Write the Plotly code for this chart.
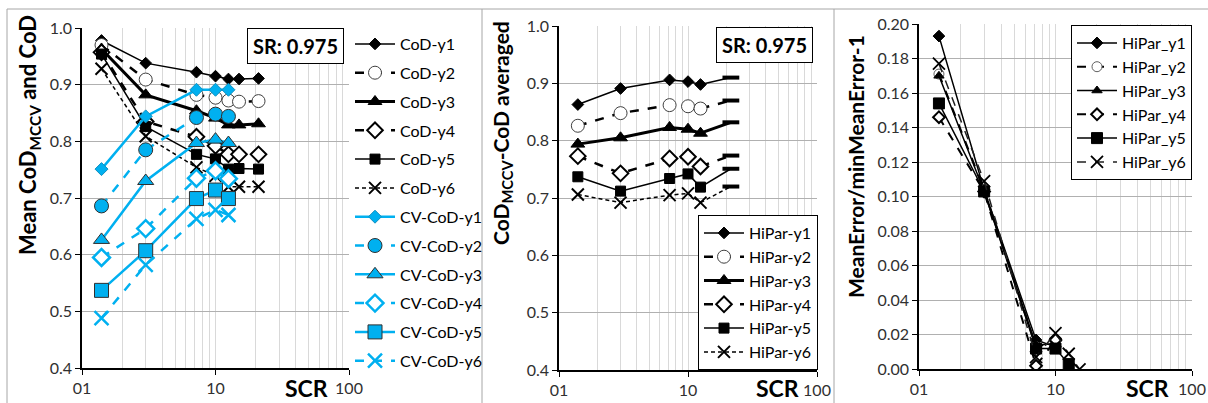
import plotly.graph_objects as go

# ---------------- data ----------------
X_LEFT = [1.4, 3.0, 7.2, 10.0, 12.5, 15.0, 21.0]
X_CV = [1.4, 3.0, 7.2, 10.0, 12.5]
X_MID = [1.4, 3.0, 7.2, 10.0, 12.5, 21.5]
X_RIGHT = [1.4, 3.0, 7.2, 10.0, 12.5, 15.0]

cod_y1 = [0.978, 0.938, 0.922, 0.915, 0.910, 0.910, 0.911]
cod_y2 = [0.970, 0.909, 0.882, 0.877, 0.872, 0.870, 0.871]
cod_y3 = [0.963, 0.882, 0.854, 0.841, 0.829, 0.829, 0.831]
cod_y4 = [0.957, 0.835, 0.808, 0.792, 0.777, 0.777, 0.777]
cod_y5 = [0.954, 0.826, 0.777, 0.769, 0.751, 0.752, 0.751]
cod_y6 = [0.928, 0.809, 0.754, 0.739, 0.720, 0.720, 0.720]

cv_y1 = [0.751, 0.844, 0.891, 0.891, 0.891]
cv_y2 = [0.686, 0.785, 0.842, 0.848, 0.844]
cv_y3 = [0.626, 0.730, 0.797, 0.803, 0.797]
cv_y4 = [0.595, 0.646, 0.735, 0.748, 0.734]
cv_y5 = [0.537, 0.607, 0.699, 0.714, 0.699]
cv_y6 = [0.488, 0.582, 0.663, 0.679, 0.670]

hp_y1 = [0.863, 0.891, 0.906, 0.903, 0.898, 0.910]
hp_y2 = [0.826, 0.848, 0.862, 0.860, 0.856, 0.870]
hp_y3 = [0.794, 0.805, 0.823, 0.820, 0.813, 0.832]
hp_y4 = [0.773, 0.743, 0.769, 0.772, 0.755, 0.774]
hp_y5 = [0.737, 0.712, 0.734, 0.742, 0.719, 0.751]
hp_y6 = [0.706, 0.692, 0.705, 0.708, 0.692, 0.720]

err_y1 = [0.193, 0.104, 0.017, 0.013, None, None]
err_y2 = [0.171, 0.104, 0.013, 0.016, None, None]
err_y3 = [0.170, 0.103, 0.014, 0.015, None, None]
err_y4 = [0.146, 0.103, 0.002, 0.017, None, None]
err_y5 = [0.154, 0.103, 0.012, 0.012, 0.003, None]
err_y6 = [0.177, 0.109, 0.007, 0.021, 0.009, 0.000]

left_names = ["CoD-y1", "CoD-y2", "CoD-y3", "CoD-y4", "CoD-y5", "CoD-y6"]
cv_names = ["CV-CoD-y1", "CV-CoD-y2", "CV-CoD-y3", "CV-CoD-y4", "CV-CoD-y5", "CV-CoD-y6"]
mid_names = ["HiPar-y1", "HiPar-y2", "HiPar-y3", "HiPar-y4", "HiPar-y5", "HiPar-y6"]
right_names = ["HiPar_y1", "HiPar_y2", "HiPar_y3", "HiPar_y4", "HiPar_y5", "HiPar_y6"]

FONT = "Lato"
W, H = 1208, 403
BLACK = "#000000"
CYAN = "#00b0f0"


def px_x(p):
    return p / W


def px_y(p):
    return 1 - p / H


# style definitions: (dash, width, symbol, size, fill, edge, edgewidth)
black_styles = [
    ("solid", 1.5, "diamond", 9, BLACK, BLACK, 1),
    ("dash", 2.5, "circle", 13, "white", "#404040", 1),
    ("solid", 3, "triangle-up", 12, BLACK, BLACK, 1),
    ("dash", 2.5, "diamond", 12, "white", BLACK, 2),
    ("solid", 1.5, "square", 10, BLACK, BLACK, 1),
    ("4px,3px", 1.5, "x-thin-open", 12, BLACK, BLACK, 2),
]
cyan_styles = [
    ("solid", 2.5, "diamond", 10, CYAN, "#1090c0", 1),
    ("dash", 2.5, "circle", 14, CYAN, "#303030", 1),
    ("solid", 2.5, "triangle-up", 14, CYAN, "#303030", 1),
    ("dash", 2.5, "diamond", 13, "white", CYAN, 2.5),
    ("solid", 2.5, "square", 14, CYAN, "#303030", 1),
    ("dash", 2.5, "x-thin-open", 14, CYAN, CYAN, 2.5),
]
right_styles = [
    ("solid", 1.5, "diamond", 9, BLACK, BLACK, 1),
    ("dash", 2, "circle", 10, "white", "#606060", 1),
    ("solid", 1.5, "triangle-up", 9, BLACK, BLACK, 1),
    ("dash", 2, "diamond", 9, "white", BLACK, 2),
    ("solid", 1.5, "square", 11, BLACK, BLACK, 1),
    ("dash", 1.5, "x-thin-open", 12, BLACK, "#202020", 1.8),
]

fig = go.Figure()


def line_color(style):
    dash, lw, sym, size, fill, edge, ew = style
    if sym.startswith("x"):
        return edge
    return fill if fill != "white" else (CYAN if edge == CYAN else BLACK)


def add(x, y, name, style, xa, ya, legend, group=None):
    dash, lw, sym, size, fill, edge, ew = style
    fig.add_trace(go.Scatter(
        x=x, y=y, name=name, mode="lines+markers",
        line=dict(color=line_color(style), width=lw, dash=dash),
        marker=dict(symbol=sym, size=size, color=fill, line=dict(color=edge, width=ew)),
        xaxis=xa, yaxis=ya, legend=legend,
        legendgroup=group, connectgaps=False,
    ))


def add_tail(x, y, style, xa, ya):
    # final segment ending in a dash marker (middle panel)
    dash, lw, sym, size, fill, edge, ew = style
    fig.add_trace(go.Scatter(
        x=x, y=y, mode="lines", showlegend=False, hoverinfo="skip",
        line=dict(color=line_color(style), width=lw, dash=dash),
        xaxis=xa, yaxis=ya,
    ))
    fig.add_trace(go.Scatter(
        x=x[-1:], y=y[-1:], mode="markers", showlegend=False,
        marker=dict(symbol="line-ew-open", size=12, color=BLACK,
                    line=dict(color=BLACK, width=4)),
        xaxis=xa, yaxis=ya,
    ))


cod_series = [cod_y1, cod_y2, cod_y3, cod_y4, cod_y5, cod_y6]
cv_series = [cv_y1, cv_y2, cv_y3, cv_y4, cv_y5, cv_y6]
hp_series = [hp_y1, hp_y2, hp_y3, hp_y4, hp_y5, hp_y6]
err_series = [err_y1, err_y2, err_y3, err_y4, err_y5, err_y6]

for i, (ys, nm) in enumerate(zip(cod_series, left_names)):
    add(X_LEFT, ys, nm, black_styles[i], "x", "y", "legend", group="a%d" % i)
for i, (ys, nm) in enumerate(zip(cv_series, cv_names)):
    add(X_CV, ys, nm, cyan_styles[i], "x", "y", "legend", group="b%d" % i)
for i, (ys, nm) in enumerate(zip(hp_series, mid_names)):
    add_tail(X_MID[-2:], ys[-2:], black_styles[i], "x2", "y2")
for i, (ys, nm) in enumerate(zip(hp_series, mid_names)):
    add(X_MID[:-1], ys[:-1], nm, black_styles[i], "x2", "y2", "legend2")
for i, (ys, nm) in enumerate(zip(err_series, right_names)):
    add(X_RIGHT, ys, nm, right_styles[i], "x3", "y3", "legend3")

minor_vals = [2, 3, 4, 5, 6, 7, 8, 9, 20, 30, 40, 50, 60, 70, 80, 90]


def xaxis_cfg(x0, x1, anchor):
    return dict(
        type="log", range=[0, 2], domain=[px_x(x0), px_x(x1)], anchor=anchor,
        tickvals=[1, 10, 100], ticktext=["01", "10", "100"],
        ticks="outside", ticklen=5, tickcolor=BLACK,
        showline=True, linecolor=BLACK, linewidth=1.5,
        showgrid=True, gridcolor="#d9d9d9", gridwidth=1,
        minor=dict(tickvals=minor_vals, showgrid=True, gridcolor="#d9d9d9",
                   gridwidth=1, ticks=""),
        tickfont=dict(family=FONT, size=16, color="#303030"),
        zeroline=False, fixedrange=True, automargin=False,
    )


def yaxis_cfg(y0, y1, anchor, rng, dtick, fmt):
    return dict(
        range=rng, domain=[px_y(y1), px_y(y0)], anchor=anchor,
        dtick=dtick, tickformat=fmt,
        ticks="outside", ticklen=5, tickcolor=BLACK,
        showline=True, linecolor=BLACK, linewidth=1.5,
        showgrid=True, gridcolor="#b0b0b0", gridwidth=1,
        tickfont=dict(family=FONT, size=16, color="#303030"),
        zeroline=False, fixedrange=True, automargin=False,
    )


fig.update_layout(
    width=W, height=H,
    margin=dict(l=0, r=0, t=0, b=0, autoexpand=False),
    paper_bgcolor="white", plot_bgcolor="white",
    font=dict(family=FONT, size=16, color=BLACK),
    xaxis=xaxis_cfg(82, 349, "y"),
    yaxis=yaxis_cfg(28, 368, "x", [0.4, 1.0], 0.1, ".1f"),
    xaxis2=xaxis_cfg(559, 817, "y2"),
    yaxis2=yaxis_cfg(26, 370, "x2", [0.4, 1.0], 0.1, ".1f"),
    xaxis3=xaxis_cfg(919, 1192, "y3"),
    yaxis3=yaxis_cfg(24, 369.3, "x3", [0, 0.2], 0.02, ".2f"),
    legend=dict(
        x=px_x(350), y=px_y(27), xanchor="left", yanchor="top",
        bgcolor="rgba(0,0,0,0)", borderwidth=0,
        font=dict(family=FONT, size=16, color=BLACK),
        tracegroupgap=5, itemwidth=40,
    ),
    legend2=dict(
        x=px_x(818), y=px_y(370), xanchor="right", yanchor="bottom",
        bgcolor="white", bordercolor=BLACK, borderwidth=1,
        font=dict(family=FONT, size=16, color=BLACK),
        itemwidth=40,
    ),
    legend3=dict(
        x=px_x(1192), y=px_y(25), xanchor="right", yanchor="top",
        bgcolor="white", bordercolor=BLACK, borderwidth=1,
        font=dict(family=FONT, size=16, color=BLACK),
        itemwidth=40,
    ),
    showlegend=True,
)


def ann(text, cx, cy, size, angle=0, box=False):
    d = dict(text=text, x=px_x(cx), y=px_y(cy), xref="paper", yref="paper",
             xanchor="center", yanchor="middle", showarrow=False, textangle=angle,
             font=dict(family=FONT, size=size, color=BLACK))
    if box:
        d.update(bordercolor=BLACK, borderwidth=1, borderpad=5, bgcolor="white")
    return d


annotations = [
    ann("<b>SR: 0.975</b>", 295.5, 46, 20, box=True),
    ann("<b>SR: 0.975</b>", 764.5, 45, 20, box=True),
    ann("<b>Mean CoD<sub>MCCV</sub> and CoD</b>", 29, 135, 22, angle=-90),
    ann("<b>CoD<sub>MCCV</sub>-CoD averaged</b>", 502, 133, 21, angle=-90),
    ann("<b>MeanError/minMeanError-1</b>", 855, 167, 21, angle=-90),
]
for cx in (306, 777, 1147):
    annotations.append(ann("<b>SCR</b>", cx, 388, 23))
fig.update_layout(annotations=annotations)

# panel frames
frame = dict(color="#a6a6a6", width=1)
shapes = [
    dict(type="line", xref="paper", yref="paper", x0=px_x(7), x1=1, y0=px_y(9), y1=px_y(9), line=frame),
]
for xv in (7, 482, 834):
    shapes.append(dict(type="line", xref="paper", yref="paper", x0=px_x(xv), x1=px_x(xv),
                       y0=0, y1=px_y(9), line=frame))
fig.update_layout(shapes=shapes)

fig.write_html("out.html")
